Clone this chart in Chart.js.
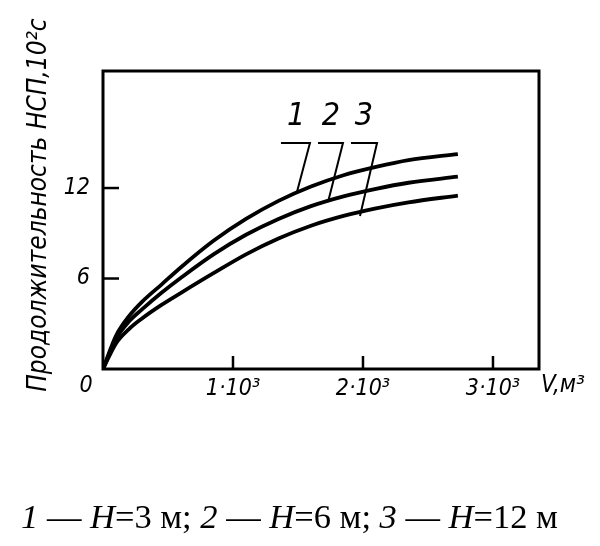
<!DOCTYPE html>
<html>
<head>
<meta charset="utf-8">
<script src="https://cdn.jsdelivr.net/npm/chart.js@4.4.1/dist/chart.umd.min.js"></script>
<style>
  html, body { margin: 0; padding: 0; background: #fff; }
  #wrap { position: relative; width: 600px; height: 546px; overflow: hidden; }
  #c { position: absolute; left: 0; top: 0; }
  #caption {
    position: absolute; left: 21px; top: 497px; white-space: nowrap;
    font-family: "Liberation Serif", "DejaVu Serif", serif; font-size: 34.5px; color: #000;
  }
  #caption i { font-style: italic; }
</style>
</head>
<body>
<div id="wrap">
  <canvas id="c" width="600" height="546"></canvas>
  <div id="caption"><i>1</i> — <i>H</i>=3 м; <i>2</i> — <i>H</i>=6 м; <i>3</i> — <i>H</i>=12 м</div>
</div>
<script>
// ---- data ----
const volumes   = [0, 100, 200, 300, 450, 600, 850, 1100, 1350, 1600, 1850, 2100, 2350, 2730];
const seriesH3  = [0, 2.2, 3.5, 4.45, 5.6, 6.75, 8.5, 9.95, 11.15, 12.1, 12.85, 13.4, 13.85, 14.25];
const seriesH6  = [0, 2.0, 3.15, 3.95, 5.05, 6.05, 7.6, 8.9, 9.95, 10.8, 11.45, 11.95, 12.35, 12.75];
const seriesH12 = [0, 1.7, 2.65, 3.35, 4.25, 5.05, 6.35, 7.6, 8.65, 9.5, 10.15, 10.65, 11.05, 11.5];
const seriesNames = ['1', '2', '3'];
const xTickValues = [0, 1000, 2000, 3000];
const yTickValues = [0, 6, 12];
const xMax = 3354;
const yMax = 19.76;
// leader lines for curve numbers, in data units [V, T]
const leaderLines = [
  [[1369, 14.99], [1592, 14.99], [1492, 11.74]],
  [[1654, 14.99], [1846, 14.99], [1731, 11.07]],
  [[1908, 14.99], [2108, 14.99], [1977, 10.15]]
];
const leaderLabelPos = [[1485, 16.7], [1754, 16.7], [2008, 16.7]];

const yTitle = 'Продолжительность НСП,10²с';
const xTitle = 'V,м³';

const FONT = '"DejaVu Sans Condensed", "DejaVu Sans", sans-serif';

function toPoints(ys) { return volumes.map((v, i) => ({ x: v, y: ys[i] })); }

const decor = {
  id: 'decor',
  afterDatasetsDraw(chart) {
    const { ctx, chartArea: a, scales: { x, y } } = chart;
    ctx.save();
    ctx.strokeStyle = '#000';
    ctx.fillStyle = '#000';
    // frame
    ctx.lineWidth = 3;
    ctx.strokeRect(a.left, a.top, a.right - a.left, a.bottom - a.top);
    // inward ticks
    ctx.lineWidth = 2.5;
    x.ticks.forEach(t => {
      if (t.value === 0) return;
      const px = x.getPixelForValue(t.value);
      ctx.beginPath(); ctx.moveTo(px, a.bottom); ctx.lineTo(px, a.bottom - 13); ctx.stroke();
    });
    y.ticks.forEach(t => {
      if (t.value === 0) return;
      const py = y.getPixelForValue(t.value);
      ctx.beginPath(); ctx.moveTo(a.left, py); ctx.lineTo(a.left + 16, py); ctx.stroke();
    });
    // leader lines
    ctx.lineWidth = 2;
    leaderLines.forEach(line => {
      ctx.beginPath();
      line.forEach((p, i) => {
        const px = x.getPixelForValue(p[0]), py = y.getPixelForValue(p[1]);
        if (i === 0) ctx.moveTo(px, py); else ctx.lineTo(px, py);
      });
      ctx.stroke();
    });
    ctx.font = 'italic 32px ' + FONT;
    ctx.textAlign = 'center';
    ctx.textBaseline = 'middle';
    leaderLabelPos.forEach((p, i) => {
      ctx.fillText(seriesNames[i], x.getPixelForValue(p[0]), y.getPixelForValue(p[1]));
    });
    // origin "0"
    ctx.font = 'italic 23px ' + FONT;
    ctx.fillText('0', x.getPixelForValue(0) - 17, a.bottom + 17);
    // x axis title
    ctx.textAlign = 'left';
    ctx.font = 'italic 24px ' + FONT;
    ctx.fillText(xTitle, a.right + 2, a.bottom + 17);
    // y axis title
    ctx.translate(39, 205);
    ctx.rotate(-Math.PI / 2);
    ctx.textAlign = 'center';
    ctx.font = 'italic 26px ' + FONT;
    ctx.fillText(yTitle, 0, 0);
    ctx.restore();
  }
};

const lineStyle = { borderColor: '#000', borderWidth: 3.8, pointRadius: 0, fill: false, showLine: true, cubicInterpolationMode: 'monotone' };

new Chart(document.getElementById('c'), {
  type: 'scatter',
  data: {
    datasets: [
      Object.assign({ label: seriesNames[0], data: toPoints(seriesH3) }, lineStyle),
      Object.assign({ label: seriesNames[1], data: toPoints(seriesH6) }, lineStyle),
      Object.assign({ label: seriesNames[2], data: toPoints(seriesH12) }, lineStyle)
    ]
  },
  options: {
    responsive: false,
    animation: false,
    layout: { padding: { top: 71, right: 61, left: 0, bottom: 0 } },
    plugins: { legend: { display: false }, tooltip: { enabled: false } },
    scales: {
      x: {
        type: 'linear', min: 0, max: xMax,
        afterBuildTicks: s => { s.ticks = xTickValues.map(v => ({ value: v })); },
        afterFit: s => { s.height = 546 - 369; },
        grid: { display: false, drawTicks: false },
        border: { display: false },
        ticks: {
          color: '#000', padding: 6, maxRotation: 0, autoSkip: false,
          font: { family: FONT, style: 'italic', size: 23 },
          callback: v => v === 0 ? '' : (v / 1000) + '·10³'
        }
      },
      y: {
        type: 'linear', min: 0, max: yMax,
        afterBuildTicks: s => { s.ticks = yTickValues.map(v => ({ value: v })); },
        afterFit: s => { s.width = 103; },
        grid: { display: false, drawTicks: false },
        border: { display: false },
        ticks: {
          color: '#000', padding: 13, autoSkip: false,
          font: { family: FONT, style: 'italic', size: 23 },
          callback: v => v === 0 ? '' : String(v)
        }
      }
    }
  },
  plugins: [decor]
});
</script>
</body>
</html>
